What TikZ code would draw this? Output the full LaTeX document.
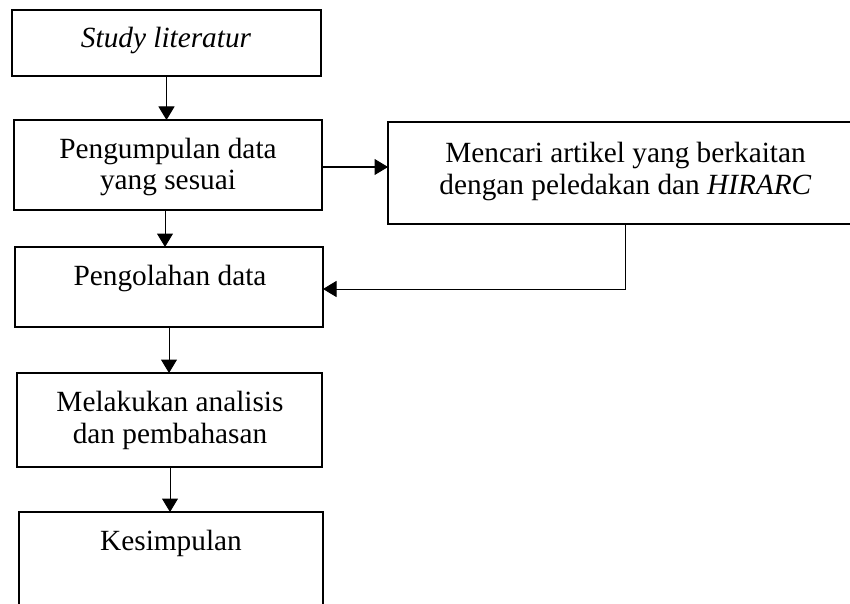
\documentclass[tikz,border=0pt]{standalone}
\usepackage{fontspec}
\setmainfont{Liberation Serif}
\usetikzlibrary{arrows.meta}
\begin{document}
\begin{tikzpicture}[x=1pt,y=-1pt,
  boxnode/.style={draw=black,line width=1.2pt,rectangle,inner sep=0pt,outer sep=0pt},
  txt/.style={anchor=base,inner sep=0pt,font=\fontsize{29.3}{31.5}\selectfont},
  arr/.style={draw=black,line width=1pt,-{Triangle[length=13.5pt,width=16pt]}}]
\clip (0,0) rectangle (850,604);
\fill[white] (0,0) rectangle (850,604);
% boxes
\node[boxnode,minimum width=309pt,minimum height=66pt] (b1) at (166.5,43) {};
\node[boxnode,minimum width=308pt,minimum height=90pt] (b2) at (168,165) {};
\node[boxnode,minimum width=308pt,minimum height=80pt] (b3) at (169,287) {};
\node[boxnode,minimum width=470pt,minimum height=102pt] (b4) at (623,173) {};
\node[boxnode,minimum width=305pt,minimum height=94pt] (b5) at (169.5,420) {};
\node[boxnode,minimum width=304pt,minimum height=140pt] (b6) at (171,582) {};
% texts
\node[txt] (t1) at (166,48) {\itshape Study literatur};
\node[txt] (t2a) at (168,159) {Pengumpulan data};
\node[txt] (t2b) at (168,189) {yang sesuai};
\node[txt] (t3) at (170,285) {Pengolahan data};
\node[txt] (t4a) at (625.5,162) {Mencari artikel yang berkaitan};
\node[txt] (t4b) at (625.5,194) {dengan peledakan dan \textit{HIRARC}};
\node[txt] (t5a) at (170,411.5) {Melakukan analisis};
\node[txt] (t5b) at (170,443) {dan pembahasan};
\node[txt] (t6) at (171,550) {Kesimpulan};
% connectors
\coordinate (k) at (625,289);
\coordinate (h) at (0,167);
\draw[arr] (b1.south) -- (b1.south |- b2.north);
\draw[arr] ([xshift=-3pt]b2.south) -- ([xshift=-3pt]b2.south |- b3.north);
\draw[arr] (b3.south) -- (b3.south |- b5.north);
\draw[arr] ([xshift=0.5pt]b5.south) -- ([xshift=0.5pt]b5.south |- b6.north);
\draw[arr] (b2.east |- h) -- (b4.west |- h);
\draw[arr] (b4.south -| k) |- (b3.east |- k);
\end{tikzpicture}
\end{document}
